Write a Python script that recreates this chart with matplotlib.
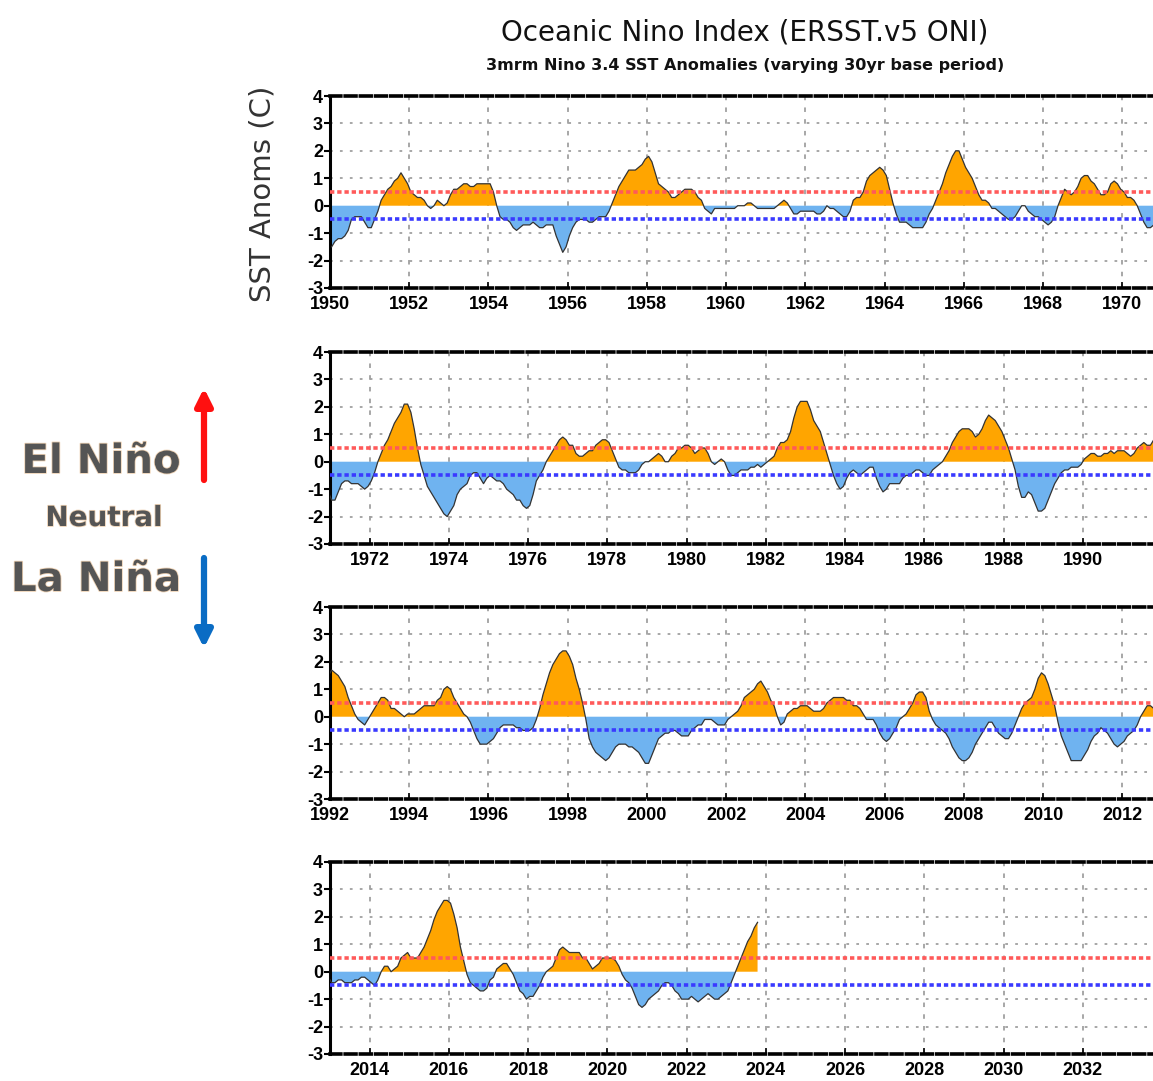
import numpy as np
import matplotlib
matplotlib.use("Agg")
import matplotlib.pyplot as plt
import matplotlib.patheffects as pe

# 3-month running mean Nino 3.4 anomalies (DJF, JFM, ... NDJ)
oni_1950s = [
    -1.5, -1.3, -1.2, -1.2, -1.1, -0.9, -0.5, -0.4, -0.4, -0.4, -0.6, -0.8,
    -0.8, -0.5, -0.2, 0.2, 0.4, 0.6, 0.7, 0.9, 1.0, 1.2, 1.0, 0.8,
    0.5, 0.4, 0.3, 0.3, 0.2, 0.0, -0.1, 0.0, 0.2, 0.1, 0.0, 0.1,
    0.4, 0.6, 0.6, 0.7, 0.8, 0.8, 0.7, 0.7, 0.8, 0.8, 0.8, 0.8,
    0.8, 0.5, 0.0, -0.4, -0.5, -0.5, -0.6, -0.8, -0.9, -0.8, -0.7, -0.7,
    -0.7, -0.6, -0.7, -0.8, -0.8, -0.7, -0.7, -0.7, -1.1, -1.4, -1.7, -1.5,
    -1.1, -0.8, -0.6, -0.5, -0.5, -0.5, -0.6, -0.6, -0.5, -0.4, -0.4, -0.4,
    -0.2, 0.1, 0.4, 0.7, 0.9, 1.1, 1.3, 1.3, 1.3, 1.4, 1.5, 1.7,
    1.8, 1.6, 1.2, 0.8, 0.7, 0.6, 0.5, 0.3, 0.3, 0.4, 0.5, 0.6,
    0.6, 0.6, 0.5, 0.3, 0.2, -0.1, -0.2, -0.3, -0.1, -0.1, -0.1, -0.1,
]
oni_1960s = [
    -0.1, -0.1, -0.1, 0.0, 0.0, 0.0, 0.1, 0.1, 0.0, -0.1, -0.1, -0.1,
    -0.1, -0.1, -0.1, 0.0, 0.1, 0.2, 0.1, -0.1, -0.3, -0.3, -0.2, -0.2,
    -0.2, -0.2, -0.2, -0.3, -0.3, -0.2, 0.0, -0.1, -0.1, -0.2, -0.3, -0.4,
    -0.4, -0.2, 0.2, 0.3, 0.3, 0.5, 0.9, 1.1, 1.2, 1.3, 1.4, 1.3,
    1.1, 0.6, 0.1, -0.3, -0.6, -0.6, -0.6, -0.7, -0.8, -0.8, -0.8, -0.8,
    -0.6, -0.3, -0.1, 0.2, 0.5, 0.8, 1.2, 1.5, 1.8, 2.0, 2.0, 1.7,
    1.4, 1.2, 1.0, 0.7, 0.4, 0.2, 0.2, 0.1, -0.1, -0.1, -0.2, -0.3,
    -0.4, -0.5, -0.5, -0.4, -0.2, 0.0, 0.0, -0.2, -0.3, -0.4, -0.4, -0.5,
    -0.6, -0.7, -0.6, -0.4, 0.0, 0.3, 0.6, 0.5, 0.4, 0.5, 0.7, 1.0,
    1.1, 1.1, 0.9, 0.8, 0.6, 0.4, 0.4, 0.5, 0.8, 0.9, 0.8, 0.6,
]
oni_1970s = [
    0.5, 0.3, 0.3, 0.2, 0.0, -0.3, -0.6, -0.8, -0.8, -0.7, -0.9, -1.1,
    -1.4, -1.4, -1.1, -0.8, -0.7, -0.7, -0.8, -0.8, -0.8, -0.9, -1.0, -0.9,
    -0.7, -0.4, 0.0, 0.3, 0.6, 0.8, 1.1, 1.4, 1.6, 1.8, 2.1, 2.1,
    1.8, 1.2, 0.5, -0.1, -0.5, -0.9, -1.1, -1.3, -1.5, -1.7, -1.9, -2.0,
    -1.8, -1.6, -1.2, -1.0, -0.9, -0.8, -0.5, -0.4, -0.4, -0.6, -0.8, -0.6,
    -0.5, -0.6, -0.7, -0.7, -0.8, -1.0, -1.1, -1.2, -1.4, -1.4, -1.6, -1.7,
    -1.6, -1.2, -0.7, -0.5, -0.3, 0.0, 0.2, 0.4, 0.6, 0.8, 0.9, 0.8,
    0.6, 0.6, 0.3, 0.2, 0.2, 0.3, 0.4, 0.4, 0.6, 0.7, 0.8, 0.8,
    0.7, 0.4, 0.1, -0.2, -0.3, -0.3, -0.4, -0.4, -0.4, -0.3, -0.1, 0.0,
    0.0, 0.1, 0.2, 0.3, 0.2, 0.0, 0.0, 0.2, 0.3, 0.5, 0.5, 0.6,
]
oni_1980s = [
    0.6, 0.5, 0.3, 0.4, 0.5, 0.5, 0.3, 0.0, -0.1, 0.0, 0.1, 0.0,
    -0.3, -0.5, -0.5, -0.4, -0.3, -0.3, -0.3, -0.2, -0.2, -0.1, -0.2, -0.1,
    0.0, 0.1, 0.2, 0.5, 0.7, 0.7, 0.8, 1.1, 1.6, 2.0, 2.2, 2.2,
    2.2, 1.9, 1.5, 1.3, 1.1, 0.7, 0.3, -0.1, -0.5, -0.8, -1.0, -0.9,
    -0.6, -0.4, -0.3, -0.4, -0.5, -0.4, -0.3, -0.2, -0.2, -0.6, -0.9, -1.1,
    -1.0, -0.8, -0.8, -0.8, -0.8, -0.6, -0.5, -0.5, -0.4, -0.3, -0.3, -0.4,
    -0.5, -0.5, -0.3, -0.2, -0.1, 0.0, 0.2, 0.4, 0.7, 0.9, 1.1, 1.2,
    1.2, 1.2, 1.1, 0.9, 1.0, 1.2, 1.5, 1.7, 1.6, 1.5, 1.3, 1.1,
    0.8, 0.5, 0.1, -0.3, -0.9, -1.3, -1.3, -1.1, -1.2, -1.5, -1.8, -1.8,
    -1.7, -1.4, -1.1, -0.8, -0.6, -0.4, -0.3, -0.3, -0.2, -0.2, -0.2, -0.1,
]
oni_1990s = [
    0.1, 0.2, 0.3, 0.3, 0.2, 0.2, 0.3, 0.3, 0.4, 0.3, 0.4, 0.4,
    0.4, 0.3, 0.2, 0.3, 0.5, 0.6, 0.7, 0.6, 0.6, 0.8, 1.2, 1.5,
    1.7, 1.6, 1.5, 1.3, 1.1, 0.7, 0.4, 0.1, -0.1, -0.2, -0.3, -0.1,
    0.1, 0.3, 0.5, 0.7, 0.7, 0.6, 0.3, 0.3, 0.2, 0.1, 0.0, 0.1,
    0.1, 0.1, 0.2, 0.3, 0.4, 0.4, 0.4, 0.4, 0.6, 0.7, 1.0, 1.1,
    1.0, 0.7, 0.5, 0.3, 0.1, 0.0, -0.2, -0.5, -0.8, -1.0, -1.0, -1.0,
    -0.9, -0.8, -0.6, -0.4, -0.3, -0.3, -0.3, -0.3, -0.4, -0.4, -0.5, -0.5,
    -0.5, -0.4, -0.1, 0.3, 0.8, 1.2, 1.6, 1.9, 2.1, 2.3, 2.4, 2.4,
    2.2, 1.9, 1.4, 1.0, 0.5, -0.1, -0.8, -1.1, -1.3, -1.4, -1.5, -1.6,
    -1.5, -1.3, -1.1, -1.0, -1.0, -1.0, -1.1, -1.1, -1.2, -1.3, -1.5, -1.7,
]
oni_2000s = [
    -1.7, -1.4, -1.1, -0.8, -0.7, -0.6, -0.6, -0.5, -0.5, -0.6, -0.7, -0.7,
    -0.7, -0.5, -0.4, -0.3, -0.3, -0.1, -0.1, -0.1, -0.2, -0.3, -0.3, -0.3,
    -0.1, 0.0, 0.1, 0.2, 0.4, 0.7, 0.8, 0.9, 1.0, 1.2, 1.3, 1.1,
    0.9, 0.6, 0.4, 0.0, -0.3, -0.2, 0.1, 0.2, 0.3, 0.3, 0.4, 0.4,
    0.4, 0.3, 0.2, 0.2, 0.2, 0.3, 0.5, 0.6, 0.7, 0.7, 0.7, 0.7,
    0.6, 0.6, 0.4, 0.4, 0.3, 0.1, -0.1, -0.1, -0.1, -0.3, -0.6, -0.8,
    -0.9, -0.8, -0.6, -0.4, -0.1, 0.0, 0.1, 0.3, 0.5, 0.8, 0.9, 0.9,
    0.7, 0.2, -0.1, -0.3, -0.4, -0.5, -0.6, -0.8, -1.1, -1.3, -1.5, -1.6,
    -1.6, -1.5, -1.3, -1.0, -0.8, -0.6, -0.4, -0.2, -0.2, -0.4, -0.6, -0.7,
    -0.8, -0.8, -0.6, -0.3, 0.0, 0.3, 0.5, 0.6, 0.7, 1.0, 1.4, 1.6,
]
oni_2010s = [
    1.5, 1.2, 0.8, 0.4, -0.2, -0.7, -1.0, -1.3, -1.6, -1.6, -1.6, -1.6,
    -1.4, -1.2, -0.9, -0.7, -0.6, -0.4, -0.5, -0.6, -0.8, -1.0, -1.1, -1.0,
    -0.9, -0.7, -0.6, -0.5, -0.3, 0.0, 0.2, 0.4, 0.4, 0.3, 0.1, -0.2,
    -0.4, -0.4, -0.3, -0.3, -0.4, -0.4, -0.4, -0.3, -0.3, -0.2, -0.2, -0.3,
    -0.4, -0.5, -0.3, 0.0, 0.2, 0.2, 0.0, 0.1, 0.2, 0.5, 0.6, 0.7,
    0.5, 0.5, 0.5, 0.7, 0.9, 1.2, 1.5, 1.9, 2.2, 2.4, 2.6, 2.6,
    2.5, 2.1, 1.6, 0.9, 0.4, -0.1, -0.4, -0.5, -0.6, -0.7, -0.7, -0.6,
    -0.3, -0.2, 0.1, 0.2, 0.3, 0.3, 0.1, -0.1, -0.4, -0.7, -0.8, -1.0,
    -0.9, -0.9, -0.7, -0.5, -0.2, 0.0, 0.1, 0.2, 0.5, 0.8, 0.9, 0.8,
    0.7, 0.7, 0.7, 0.7, 0.5, 0.5, 0.3, 0.1, 0.2, 0.3, 0.5, 0.5,
]
oni_2020s = [
    0.5, 0.5, 0.4, 0.2, -0.1, -0.3, -0.4, -0.6, -0.9, -1.2, -1.3, -1.2,
    -1.0, -0.9, -0.8, -0.7, -0.5, -0.4, -0.4, -0.5, -0.7, -0.8, -1.0, -1.0,
    -1.0, -0.9, -1.0, -1.1, -1.0, -0.9, -0.8, -0.9, -1.0, -1.0, -0.9, -0.8,
    -0.7, -0.4, -0.1, 0.2, 0.5, 0.8, 1.1, 1.3, 1.6, 1.8,
]

start_year = 1950
panel_ranges = [(1950, 1971), (1971, 1992), (1992, 2013), (2013, 2034)]
el_nino_thresh = 0.5
la_nina_thresh = -0.5

oni = np.array(oni_1950s + oni_1960s + oni_1970s + oni_1980s
               + oni_1990s + oni_2000s + oni_2010s + oni_2020s)
t = start_year + (np.arange(len(oni)) + 0.5) / 12.0

plt.rcParams['font.family'] = ['Liberation Sans', 'DejaVu Sans']

fig = plt.figure(figsize=(11.53, 10.81), dpi=100)

W, H = 1153.0, 1081.0
left_px, width_px = 330, 832
tops = [96, 352, 607, 862]
panel_h = 192

for k, (x0, x1) in enumerate(panel_ranges):
    top = tops[k]
    ax = fig.add_axes([left_px / W, 1 - (top + panel_h) / H, width_px / W, panel_h / H])

    ax.fill_between(t, 0, oni, where=oni >= 0, interpolate=True,
                    color='#FFA500', lw=0, zorder=2)
    ax.fill_between(t, 0, oni, where=oni <= 0, interpolate=True,
                    color='#6FB3F0', lw=0, zorder=2)
    ax.plot(t, oni, color='#333333', lw=0.9, zorder=3)

    ax.axhline(el_nino_thresh, color='#FF5A5A', lw=2.6, ls=(0, (1.2, 0.8)), zorder=4)
    ax.axhline(la_nina_thresh, color='#3A3AFF', lw=2.6, ls=(0, (1.2, 0.8)), zorder=4)

    ax.set_xlim(x0, x1)
    ax.set_ylim(-3, 4)
    ax.set_yticks(range(-3, 5))
    ax.set_yticklabels([str(v) for v in range(-3, 5)])
    xt = [y for y in range(x0, x1) if y % 2 == 0]
    ax.set_xticks(xt)
    ax.set_xticklabels([str(y) for y in xt])

    for y in range(-2, 4):
        if y != 0:
            ax.axhline(y, color='#a0a0a0', lw=1.3, ls=(0, (1.5, 4)), zorder=1)
    for x in xt:
        ax.axvline(x, color='#a0a0a0', lw=1.3, ls=(0, (2.5, 4)), zorder=1)

    ax.spines['right'].set_visible(False)
    ax.spines['left'].set_linewidth(2.2)
    for s in ('top', 'bottom'):
        ax.spines[s].set_linewidth(2.6)
        ax.spines[s].set_linestyle((0, (3, 1.2)))
    ax.tick_params(axis='y', direction='out', length=4, width=1.5, pad=1,
                   labelsize=13)
    ax.tick_params(axis='x', direction='in', length=4, width=1.2, pad=6,
                   labelsize=13)
    for lbl in ax.get_xticklabels() + ax.get_yticklabels():
        lbl.set_fontweight('bold')

fig.text(0.646, 0.970, "Oceanic Nino Index (ERSST.v5 ONI)", ha='center', va='center',
         fontsize=20, family='DejaVu Sans', color='#111111')
fig.text(0.646, 0.939, "3mrm Nino 3.4 SST Anomalies (varying 30yr base period)",
         ha='center', va='center', fontsize=11.5, fontweight='bold',
         family='DejaVu Sans', color='#111111')
fig.text(262 / W, 1 - 194 / H, "SST Anoms (C)", rotation=90, ha='center', va='center',
         fontsize=21, family='DejaVu Sans', color='#333333')

glow = [pe.withStroke(linewidth=1.2, foreground='#eed2b4')]
fig.text(101 / W, 1 - 462 / H, "El Niño", ha='center', va='center', fontsize=29,
         fontweight='bold', family='DejaVu Sans', color='#555555', path_effects=glow)
fig.text(104 / W, 1 - 518 / H, "Neutral", ha='center', va='center', fontsize=20,
         fontweight='bold', family='DejaVu Sans', color='#555555', path_effects=glow)
fig.text(96 / W, 1 - 580 / H, "La Niña", ha='center', va='center', fontsize=29,
         fontweight='bold', family='DejaVu Sans', color='#555555', path_effects=glow)

fig.add_artist(plt.Annotation("", xy=(204 / W, 1 - 388 / H), xytext=(204 / W, 1 - 480 / H),
                              xycoords='figure fraction', textcoords='figure fraction',
                              arrowprops=dict(arrowstyle='-|>,head_length=1.0,head_width=0.5',
                                              color='#FF1010', lw=4.5, shrinkA=0, shrinkB=0)))
fig.add_artist(plt.Annotation("", xy=(204 / W, 1 - 648 / H), xytext=(204 / W, 1 - 558 / H),
                              xycoords='figure fraction', textcoords='figure fraction',
                              arrowprops=dict(arrowstyle='-|>,head_length=1.0,head_width=0.5',
                                              color='#0A6CC4', lw=4.5, shrinkA=0, shrinkB=0)))

fig.savefig("out.png", dpi=100)
